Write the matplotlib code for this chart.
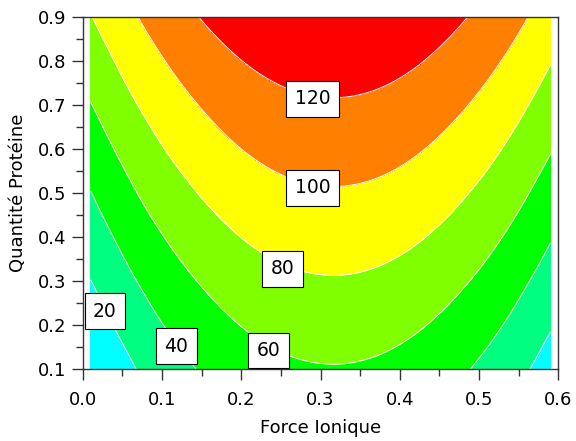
import matplotlib
matplotlib.use("Agg")
import matplotlib.pyplot as plt
import matplotlib.tri as mtri
import numpy as np
from matplotlib.ticker import MultipleLocator, FormatStrFormatter

matplotlib.rc('font', family='DejaVu Sans', size=13)

# Response surface, estimated on a grid (rows: protein quantity, cols: ionic strength)
force_ionique = [0.01, 0.07, 0.13, 0.19, 0.25, 0.31, 0.37, 0.43, 0.49, 0.55, 0.59]
quantite_proteine = [0.1, 0.2, 0.3, 0.4, 0.5, 0.6, 0.7, 0.8, 0.9]
reponse = [
    [-0.1, 20.8, 37.1, 48.9, 56.2, 58.9, 57.1, 50.7, 39.8, 24.4, 11.6],
    [9.8, 30.7, 47.0, 58.8, 66.1, 68.8, 67.0, 60.6, 49.7, 34.3, 21.5],
    [19.7, 40.6, 56.9, 68.7, 76.0, 78.7, 76.9, 70.5, 59.6, 44.2, 31.4],
    [29.6, 50.5, 66.8, 78.6, 85.9, 88.6, 86.8, 80.4, 69.5, 54.1, 41.3],
    [39.5, 60.4, 76.7, 88.5, 95.8, 98.5, 96.7, 90.3, 79.4, 64.0, 51.2],
    [49.4, 70.3, 86.6, 98.4, 105.7, 108.4, 106.6, 100.2, 89.3, 73.9, 61.1],
    [59.3, 80.2, 96.5, 108.3, 115.6, 118.3, 116.5, 110.1, 99.2, 83.8, 71.0],
    [69.2, 90.1, 106.4, 118.2, 125.5, 128.2, 126.4, 120.0, 109.1, 93.7, 80.9],
    [79.1, 100.0, 116.3, 128.1, 135.4, 138.1, 136.3, 129.9, 119.0, 103.6, 90.8],
]

niveaux = [20, 40, 60, 80, 100, 120]
couleurs = ['#00ffff', '#00ff80', '#00ff00', '#80ff00', '#ffff00', '#ff8000', '#ff0000']

# where each level value is written on the map
pos_labels = [(0.028, 0.231), (0.118, 0.152), (0.234, 0.142),
              (0.252, 0.328), (0.290, 0.512), (0.290, 0.715)]

X, Y = np.meshgrid(force_ionique, quantite_proteine)
Z = np.array(reponse)

# smooth contours: cubic refinement of the triangulated grid
tri = mtri.Triangulation(X.ravel(), Y.ravel())
refiner = mtri.UniformTriRefiner(tri)
tri_fin, z_fin = refiner.refine_field(Z.ravel(), subdiv=4)

fig = plt.figure(figsize=(5.76, 4.41), dpi=100)
ax = fig.add_axes([0.1436, 0.1633, 0.8257, 0.7975])

bornes = [-50] + niveaux + [200]
ax.tricontourf(tri_fin, z_fin, levels=bornes, colors=couleurs)
ax.tricontour(tri_fin, z_fin, levels=niveaux, colors='white', linewidths=0.7)

for niv, (px, py) in zip(niveaux, pos_labels):
    ax.text(px, py, str(niv), ha='center', va='center', fontsize=13.5,
            bbox=dict(boxstyle='square,pad=0.45', facecolor='white',
                      edgecolor='black', linewidth=0.8))

ax.set_xlim(0, 0.6)
ax.set_ylim(0.1, 0.9)
ax.xaxis.set_major_locator(MultipleLocator(0.1))
ax.xaxis.set_minor_locator(MultipleLocator(0.05))
ax.yaxis.set_major_locator(MultipleLocator(0.1))
ax.yaxis.set_minor_locator(MultipleLocator(0.05))
ax.xaxis.set_major_formatter(FormatStrFormatter('%.1f'))
ax.yaxis.set_major_formatter(FormatStrFormatter('%.1f'))
ax.tick_params(which='major', direction='out', length=8, width=1, color='#333333')
ax.tick_params(which='minor', direction='out', length=5, width=1, color='#333333')
ax.tick_params(axis='x', which='major', pad=8)

for sp in ax.spines.values():
    sp.set_color('#333333')
    sp.set_linewidth(1)

ax.set_xlabel('Force Ionique', fontsize=13, labelpad=7)
ax.set_ylabel('Quantité Protéine', fontsize=13, labelpad=8)

plt.savefig('out.png', dpi=100)
